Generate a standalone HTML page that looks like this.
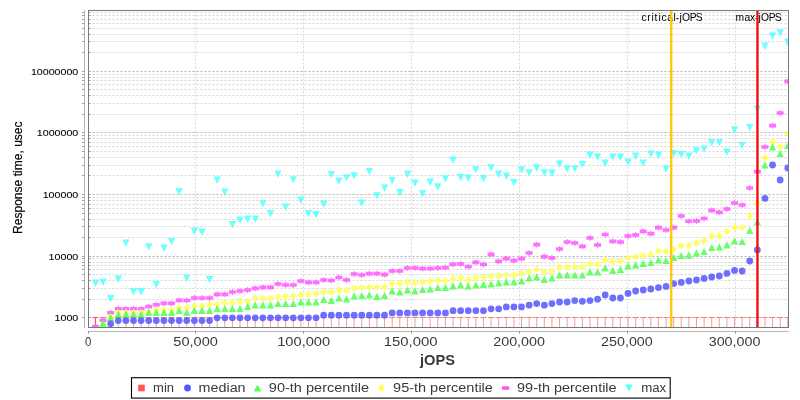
<!DOCTYPE html><html><head><meta charset="utf-8"><title>chart</title><style>html,body{margin:0;padding:0;background:#fff}body{width:800px;height:400px;overflow:hidden}svg text{filter:grayscale(1)}</style></head><body><svg width="800" height="400" viewBox="0 0 800 400" style="display:block;font-family:'Liberation Sans',sans-serif">
<rect width="800" height="400" fill="#fff"/>
<defs><clipPath id="pc"><rect x="88.5" y="10.5" width="700.0" height="317.0"/></clipPath></defs>
<g stroke="#d6d6d6" stroke-width="1" stroke-dasharray="2,2" fill="none">
<path d="M88.5 317.5H788.5" stroke="#b2b2b2"/>
<path d="M88.5 299.5H788.5"/>
<path d="M88.5 288.5H788.5"/>
<path d="M88.5 280.5H788.5"/>
<path d="M88.5 274.5H788.5"/>
<path d="M88.5 269.5H788.5"/>
<path d="M88.5 265.5H788.5"/>
<path d="M88.5 262.5H788.5"/>
<path d="M88.5 258.5H788.5"/>
<path d="M88.5 256.5H788.5" stroke="#b2b2b2"/>
<path d="M88.5 237.5H788.5"/>
<path d="M88.5 226.5H788.5"/>
<path d="M88.5 219.5H788.5"/>
<path d="M88.5 213.5H788.5"/>
<path d="M88.5 208.5H788.5"/>
<path d="M88.5 204.5H788.5"/>
<path d="M88.5 200.5H788.5"/>
<path d="M88.5 197.5H788.5"/>
<path d="M88.5 194.5H788.5" stroke="#b2b2b2"/>
<path d="M88.5 175.5H788.5"/>
<path d="M88.5 165.5H788.5"/>
<path d="M88.5 157.5H788.5"/>
<path d="M88.5 151.5H788.5"/>
<path d="M88.5 146.5H788.5"/>
<path d="M88.5 142.5H788.5"/>
<path d="M88.5 138.5H788.5"/>
<path d="M88.5 135.5H788.5"/>
<path d="M88.5 132.5H788.5" stroke="#b2b2b2"/>
<path d="M88.5 114.5H788.5"/>
<path d="M88.5 103.5H788.5"/>
<path d="M88.5 95.5H788.5"/>
<path d="M88.5 89.5H788.5"/>
<path d="M88.5 84.5H788.5"/>
<path d="M88.5 80.5H788.5"/>
<path d="M88.5 77.5H788.5"/>
<path d="M88.5 74.5H788.5"/>
<path d="M88.5 71.5H788.5" stroke="#b2b2b2"/>
<path d="M88.5 52.5H788.5"/>
<path d="M88.5 41.5H788.5"/>
<path d="M88.5 34.5H788.5"/>
<path d="M88.5 28.5H788.5"/>
<path d="M88.5 23.5H788.5"/>
<path d="M88.5 19.5H788.5"/>
<path d="M88.5 15.5H788.5"/>
<path d="M88.5 12.5H788.5"/>
<path d="M195.5 10.5V327.5"/>
<path d="M303.5 10.5V327.5"/>
<path d="M411.5 10.5V327.5"/>
<path d="M519.5 10.5V327.5"/>
<path d="M627.5 10.5V327.5"/>
<path d="M735.5 10.5V327.5"/>
</g>
<g clip-path="url(#pc)">
<g stroke="#ff5555" stroke-width="1" fill="none" stroke-opacity="0.62">
<path d="M100.32 317.5H105.82M103.07 317.5V328"/>
<path d="M107.92 317.5H113.42M110.67 317.5V328"/>
<path d="M115.53 317.5H121.03M118.28 317.5V328"/>
<path d="M123.14 317.5H128.64M125.89 317.5V328"/>
<path d="M130.75 317.5H136.25M133.50 317.5V328"/>
<path d="M138.36 317.5H143.86M141.11 317.5V328"/>
<path d="M145.96 317.5H151.46M148.71 317.5V328"/>
<path d="M153.57 317.5H159.07M156.32 317.5V328"/>
<path d="M161.18 317.5H166.68M163.93 317.5V328"/>
<path d="M168.79 317.5H174.29M171.54 317.5V328"/>
<path d="M176.40 317.5H181.90M179.15 317.5V328"/>
<path d="M184.00 317.5H189.50M186.75 317.5V328"/>
<path d="M191.61 317.5H197.11M194.36 317.5V328"/>
<path d="M199.22 317.5H204.72M201.97 317.5V328"/>
<path d="M206.83 317.5H212.33M209.58 317.5V328"/>
<path d="M214.44 317.5H219.94M217.19 317.5V328"/>
<path d="M222.04 317.5H227.54M224.79 317.5V328"/>
<path d="M229.65 317.5H235.15M232.40 317.5V328"/>
<path d="M237.26 317.5H242.76M240.01 317.5V328"/>
<path d="M244.87 317.5H250.37M247.62 317.5V328"/>
<path d="M252.48 317.5H257.98M255.23 317.5V328"/>
<path d="M260.08 317.5H265.58M262.83 317.5V328"/>
<path d="M267.69 317.5H273.19M270.44 317.5V328"/>
<path d="M275.30 317.5H280.80M278.05 317.5V328"/>
<path d="M282.91 317.5H288.41M285.66 317.5V328"/>
<path d="M290.52 317.5H296.02M293.27 317.5V328"/>
<path d="M298.12 317.5H303.62M300.87 317.5V328"/>
<path d="M305.73 317.5H311.23M308.48 317.5V328"/>
<path d="M313.34 317.5H318.84M316.09 317.5V328"/>
<path d="M320.95 317.5H326.45M323.70 317.5V328"/>
<path d="M328.56 317.5H334.06M331.31 317.5V328"/>
<path d="M336.16 317.5H341.66M338.91 317.5V328"/>
<path d="M343.77 317.5H349.27M346.52 317.5V328"/>
<path d="M351.38 317.5H356.88M354.13 317.5V328"/>
<path d="M358.99 317.5H364.49M361.74 317.5V328"/>
<path d="M366.60 317.5H372.10M369.35 317.5V328"/>
<path d="M374.20 317.5H379.70M376.95 317.5V328"/>
<path d="M381.81 317.5H387.31M384.56 317.5V328"/>
<path d="M389.42 317.5H394.92M392.17 317.5V328"/>
<path d="M397.03 317.5H402.53M399.78 317.5V328"/>
<path d="M404.64 317.5H410.14M407.39 317.5V328"/>
<path d="M412.24 317.5H417.74M414.99 317.5V328"/>
<path d="M419.85 317.5H425.35M422.60 317.5V328"/>
<path d="M427.46 317.5H432.96M430.21 317.5V328"/>
<path d="M435.07 317.5H440.57M437.82 317.5V328"/>
<path d="M442.68 317.5H448.18M445.43 317.5V328"/>
<path d="M450.28 317.5H455.78M453.03 317.5V328"/>
<path d="M457.89 317.5H463.39M460.64 317.5V328"/>
<path d="M465.50 317.5H471.00M468.25 317.5V328"/>
<path d="M473.11 317.5H478.61M475.86 317.5V328"/>
<path d="M480.72 317.5H486.22M483.47 317.5V328"/>
<path d="M488.32 317.5H493.82M491.07 317.5V328"/>
<path d="M495.93 317.5H501.43M498.68 317.5V328"/>
<path d="M503.54 317.5H509.04M506.29 317.5V328"/>
<path d="M511.15 317.5H516.65M513.90 317.5V328"/>
<path d="M518.76 317.5H524.26M521.51 317.5V328"/>
<path d="M526.36 317.5H531.86M529.11 317.5V328"/>
<path d="M533.97 317.5H539.47M536.72 317.5V328"/>
<path d="M541.58 317.5H547.08M544.33 317.5V328"/>
<path d="M549.19 317.5H554.69M551.94 317.5V328"/>
<path d="M556.80 317.5H562.30M559.55 317.5V328"/>
<path d="M564.40 317.5H569.90M567.15 317.5V328"/>
<path d="M572.01 317.5H577.51M574.76 317.5V328"/>
<path d="M579.62 317.5H585.12M582.37 317.5V328"/>
<path d="M587.23 317.5H592.73M589.98 317.5V328"/>
<path d="M594.84 317.5H600.34M597.59 317.5V328"/>
<path d="M602.44 317.5H607.94M605.19 317.5V328"/>
<path d="M610.05 317.5H615.55M612.80 317.5V328"/>
<path d="M617.66 317.5H623.16M620.41 317.5V328"/>
<path d="M625.27 317.5H630.77M628.02 317.5V328"/>
<path d="M632.88 317.5H638.38M635.63 317.5V328"/>
<path d="M640.48 317.5H645.98M643.23 317.5V328"/>
<path d="M648.09 317.5H653.59M650.84 317.5V328"/>
<path d="M655.70 317.5H661.20M658.45 317.5V328"/>
<path d="M663.31 317.5H668.81M666.06 317.5V328"/>
<path d="M670.92 317.5H676.42M673.67 317.5V328"/>
<path d="M678.52 317.5H684.02M681.27 317.5V328"/>
<path d="M686.13 317.5H691.63M688.88 317.5V328"/>
<path d="M693.74 317.5H699.24M696.49 317.5V328"/>
<path d="M701.35 317.5H706.85M704.10 317.5V328"/>
<path d="M708.96 317.5H714.46M711.71 317.5V328"/>
<path d="M716.56 317.5H722.06M719.31 317.5V328"/>
<path d="M724.17 317.5H729.67M726.92 317.5V328"/>
<path d="M731.78 317.5H737.28M734.53 317.5V328"/>
<path d="M739.39 317.5H744.89M742.14 317.5V328"/>
<path d="M747.00 317.5H752.50M749.75 317.5V328"/>
<path d="M754.60 317.5H760.10M757.35 317.5V328"/>
<path d="M762.21 317.5H767.71M764.96 317.5V328"/>
<path d="M769.82 317.5H775.32M772.57 317.5V328"/>
<path d="M777.43 317.5H782.93M780.18 317.5V328"/>
<path d="M785.04 317.5H790.54M787.79 317.5V328"/>
</g>
<path d="M92.71 317.5H98.21M95.46 317.5V328" stroke="#ff5050" stroke-width="1.2" fill="none"/>
<g fill="#55ffff" fill-opacity="0.85">
<path d="M91.76 279.60L99.16 279.60L95.46 286.90Z"/>
<path d="M99.37 278.60L106.77 278.60L103.07 285.90Z"/>
<path d="M106.97 295.10L114.37 295.10L110.67 302.40Z"/>
<path d="M114.58 275.60L121.98 275.60L118.28 282.90Z"/>
<path d="M122.19 239.60L129.59 239.60L125.89 246.90Z"/>
<path d="M129.80 288.10L137.20 288.10L133.50 295.40Z"/>
<path d="M137.41 288.10L144.81 288.10L141.11 295.40Z"/>
<path d="M145.01 243.20L152.41 243.20L148.71 250.50Z"/>
<path d="M152.62 281.10L160.02 281.10L156.32 288.40Z"/>
<path d="M160.23 244.60L167.63 244.60L163.93 251.90Z"/>
<path d="M167.84 238.00L175.24 238.00L171.54 245.30Z"/>
<path d="M175.45 188.10L182.85 188.10L179.15 195.40Z"/>
<path d="M183.05 274.60L190.45 274.60L186.75 281.90Z"/>
<path d="M190.66 227.60L198.06 227.60L194.36 234.90Z"/>
<path d="M198.27 228.60L205.67 228.60L201.97 235.90Z"/>
<path d="M205.88 276.00L213.28 276.00L209.58 283.30Z"/>
<path d="M213.49 176.60L220.89 176.60L217.19 183.90Z"/>
<path d="M221.09 188.60L228.49 188.60L224.79 195.90Z"/>
<path d="M228.70 221.00L236.10 221.00L232.40 228.30Z"/>
<path d="M236.31 216.60L243.71 216.60L240.01 223.90Z"/>
<path d="M243.92 215.60L251.32 215.60L247.62 222.90Z"/>
<path d="M251.53 215.60L258.93 215.60L255.23 222.90Z"/>
<path d="M259.13 200.20L266.53 200.20L262.83 207.50Z"/>
<path d="M266.74 210.00L274.14 210.00L270.44 217.30Z"/>
<path d="M274.35 170.60L281.75 170.60L278.05 177.90Z"/>
<path d="M281.96 203.60L289.36 203.60L285.66 210.90Z"/>
<path d="M289.57 176.20L296.97 176.20L293.27 183.50Z"/>
<path d="M297.17 196.60L304.57 196.60L300.87 203.90Z"/>
<path d="M304.78 210.00L312.18 210.00L308.48 217.30Z"/>
<path d="M312.39 211.00L319.79 211.00L316.09 218.30Z"/>
<path d="M320.00 200.60L327.40 200.60L323.70 207.90Z"/>
<path d="M327.61 171.00L335.01 171.00L331.31 178.30Z"/>
<path d="M335.21 177.60L342.61 177.60L338.91 184.90Z"/>
<path d="M342.82 174.20L350.22 174.20L346.52 181.50Z"/>
<path d="M350.43 172.20L357.83 172.20L354.13 179.50Z"/>
<path d="M358.04 199.60L365.44 199.60L361.74 206.90Z"/>
<path d="M365.65 168.00L373.05 168.00L369.35 175.30Z"/>
<path d="M373.25 192.20L380.65 192.20L376.95 199.50Z"/>
<path d="M380.86 184.60L388.26 184.60L384.56 191.90Z"/>
<path d="M388.47 177.10L395.87 177.10L392.17 184.40Z"/>
<path d="M396.08 189.00L403.48 189.00L399.78 196.30Z"/>
<path d="M403.69 170.60L411.09 170.60L407.39 177.90Z"/>
<path d="M411.29 179.60L418.69 179.60L414.99 186.90Z"/>
<path d="M418.90 190.00L426.30 190.00L422.60 197.30Z"/>
<path d="M426.51 178.60L433.91 178.60L430.21 185.90Z"/>
<path d="M434.12 183.20L441.52 183.20L437.82 190.50Z"/>
<path d="M441.73 175.20L449.13 175.20L445.43 182.50Z"/>
<path d="M449.33 156.60L456.73 156.60L453.03 163.90Z"/>
<path d="M456.94 174.00L464.34 174.00L460.64 181.30Z"/>
<path d="M464.55 174.60L471.95 174.60L468.25 181.90Z"/>
<path d="M472.16 166.20L479.56 166.20L475.86 173.50Z"/>
<path d="M479.77 175.00L487.17 175.00L483.47 182.30Z"/>
<path d="M487.37 164.20L494.77 164.20L491.07 171.50Z"/>
<path d="M494.98 170.60L502.38 170.60L498.68 177.90Z"/>
<path d="M502.59 172.60L509.99 172.60L506.29 179.90Z"/>
<path d="M510.20 179.00L517.60 179.00L513.90 186.30Z"/>
<path d="M517.81 166.20L525.21 166.20L521.51 173.50Z"/>
<path d="M525.41 169.20L532.81 169.20L529.11 176.50Z"/>
<path d="M533.02 164.60L540.42 164.60L536.72 171.90Z"/>
<path d="M540.63 169.40L548.03 169.40L544.33 176.70Z"/>
<path d="M548.24 169.60L555.64 169.60L551.94 176.90Z"/>
<path d="M555.85 160.60L563.25 160.60L559.55 167.90Z"/>
<path d="M563.45 165.20L570.85 165.20L567.15 172.50Z"/>
<path d="M571.06 165.20L578.46 165.20L574.76 172.50Z"/>
<path d="M578.67 161.00L586.07 161.00L582.37 168.30Z"/>
<path d="M586.28 151.60L593.68 151.60L589.98 158.90Z"/>
<path d="M593.89 153.60L601.29 153.60L597.59 160.90Z"/>
<path d="M601.49 159.60L608.89 159.60L605.19 166.90Z"/>
<path d="M609.10 153.60L616.50 153.60L612.80 160.90Z"/>
<path d="M616.71 153.60L624.11 153.60L620.41 160.90Z"/>
<path d="M624.32 158.60L631.72 158.60L628.02 165.90Z"/>
<path d="M631.93 152.60L639.33 152.60L635.63 159.90Z"/>
<path d="M639.53 159.40L646.93 159.40L643.23 166.70Z"/>
<path d="M647.14 150.60L654.54 150.60L650.84 157.90Z"/>
<path d="M654.75 151.60L662.15 151.60L658.45 158.90Z"/>
<path d="M662.36 165.40L669.76 165.40L666.06 172.70Z"/>
<path d="M669.97 149.90L677.37 149.90L673.67 157.20Z"/>
<path d="M677.57 151.10L684.97 151.10L681.27 158.40Z"/>
<path d="M685.18 152.60L692.58 152.60L688.88 159.90Z"/>
<path d="M692.79 147.20L700.19 147.20L696.49 154.50Z"/>
<path d="M700.40 145.60L707.80 145.60L704.10 152.90Z"/>
<path d="M708.01 139.00L715.41 139.00L711.71 146.30Z"/>
<path d="M715.61 139.00L723.01 139.00L719.31 146.30Z"/>
<path d="M723.22 148.60L730.62 148.60L726.92 155.90Z"/>
<path d="M730.83 126.20L738.23 126.20L734.53 133.50Z"/>
<path d="M738.44 142.00L745.84 142.00L742.14 149.30Z"/>
<path d="M746.05 124.00L753.45 124.00L749.75 131.30Z"/>
<path d="M753.65 105.60L761.05 105.60L757.35 112.90Z"/>
<path d="M761.26 42.60L768.66 42.60L764.96 49.90Z"/>
<path d="M768.87 32.60L776.27 32.60L772.57 39.90Z"/>
<path d="M776.48 29.20L783.88 29.20L780.18 36.50Z"/>
<path d="M784.09 38.60L791.49 38.60L787.79 45.90Z"/>
</g>
<g fill="#ff5aff" fill-opacity="0.88">
<path d="M91.96 324.70h7v3.6h-7zM94.96 323.60h1v5.8h-1z"/>
<path d="M99.57 318.45h7v3.6h-7zM102.57 317.35h1v5.8h-1z"/>
<path d="M107.17 310.95h7v3.6h-7zM110.17 309.85h1v5.8h-1z"/>
<path d="M114.78 306.95h7v3.6h-7zM117.78 305.85h1v5.8h-1z"/>
<path d="M122.39 306.95h7v3.6h-7zM125.39 305.85h1v5.8h-1z"/>
<path d="M130.00 306.95h7v3.6h-7zM133.00 305.85h1v5.8h-1z"/>
<path d="M137.61 306.95h7v3.6h-7zM140.61 305.85h1v5.8h-1z"/>
<path d="M145.21 304.80h7v3.6h-7zM148.21 303.70h1v5.8h-1z"/>
<path d="M152.82 302.95h7v3.6h-7zM155.82 301.85h1v5.8h-1z"/>
<path d="M160.43 301.60h7v3.6h-7zM163.43 300.50h1v5.8h-1z"/>
<path d="M168.04 301.60h7v3.6h-7zM171.04 300.50h1v5.8h-1z"/>
<path d="M175.65 298.60h7v3.6h-7zM178.65 297.50h1v5.8h-1z"/>
<path d="M183.25 298.70h7v3.6h-7zM186.25 297.60h1v5.8h-1z"/>
<path d="M190.86 296.20h7v3.6h-7zM193.86 295.10h1v5.8h-1z"/>
<path d="M198.47 296.20h7v3.6h-7zM201.47 295.10h1v5.8h-1z"/>
<path d="M206.08 296.20h7v3.6h-7zM209.08 295.10h1v5.8h-1z"/>
<path d="M213.69 292.60h7v3.6h-7zM216.69 291.50h1v5.8h-1z"/>
<path d="M221.29 292.60h7v3.6h-7zM224.29 291.50h1v5.8h-1z"/>
<path d="M228.90 290.20h7v3.6h-7zM231.90 289.10h1v5.8h-1z"/>
<path d="M236.51 289.20h7v3.6h-7zM239.51 288.10h1v5.8h-1z"/>
<path d="M244.12 288.20h7v3.6h-7zM247.12 287.10h1v5.8h-1z"/>
<path d="M251.73 286.60h7v3.6h-7zM254.73 285.50h1v5.8h-1z"/>
<path d="M259.33 285.60h7v3.6h-7zM262.33 284.50h1v5.8h-1z"/>
<path d="M266.94 285.60h7v3.6h-7zM269.94 284.50h1v5.8h-1z"/>
<path d="M274.55 282.20h7v3.6h-7zM277.55 281.10h1v5.8h-1z"/>
<path d="M282.16 283.20h7v3.6h-7zM285.16 282.10h1v5.8h-1z"/>
<path d="M289.77 283.20h7v3.6h-7zM292.77 282.10h1v5.8h-1z"/>
<path d="M297.37 279.20h7v3.6h-7zM300.37 278.10h1v5.8h-1z"/>
<path d="M304.98 280.60h7v3.6h-7zM307.98 279.50h1v5.8h-1z"/>
<path d="M312.59 280.60h7v3.6h-7zM315.59 279.50h1v5.8h-1z"/>
<path d="M320.20 278.20h7v3.6h-7zM323.20 277.10h1v5.8h-1z"/>
<path d="M327.81 278.70h7v3.6h-7zM330.81 277.60h1v5.8h-1z"/>
<path d="M335.41 275.70h7v3.6h-7zM338.41 274.60h1v5.8h-1z"/>
<path d="M343.02 278.20h7v3.6h-7zM346.02 277.10h1v5.8h-1z"/>
<path d="M350.63 272.20h7v3.6h-7zM353.63 271.10h1v5.8h-1z"/>
<path d="M358.24 273.20h7v3.6h-7zM361.24 272.10h1v5.8h-1z"/>
<path d="M365.85 271.80h7v3.6h-7zM368.85 270.70h1v5.8h-1z"/>
<path d="M373.45 271.80h7v3.6h-7zM376.45 270.70h1v5.8h-1z"/>
<path d="M381.06 272.80h7v3.6h-7zM384.06 271.70h1v5.8h-1z"/>
<path d="M388.67 269.20h7v3.6h-7zM391.67 268.10h1v5.8h-1z"/>
<path d="M396.28 269.20h7v3.6h-7zM399.28 268.10h1v5.8h-1z"/>
<path d="M403.89 266.20h7v3.6h-7zM406.89 265.10h1v5.8h-1z"/>
<path d="M411.49 266.20h7v3.6h-7zM414.49 265.10h1v5.8h-1z"/>
<path d="M419.10 266.80h7v3.6h-7zM422.10 265.70h1v5.8h-1z"/>
<path d="M426.71 266.80h7v3.6h-7zM429.71 265.70h1v5.8h-1z"/>
<path d="M434.32 266.20h7v3.6h-7zM437.32 265.10h1v5.8h-1z"/>
<path d="M441.93 265.80h7v3.6h-7zM444.93 264.70h1v5.8h-1z"/>
<path d="M449.53 262.60h7v3.6h-7zM452.53 261.50h1v5.8h-1z"/>
<path d="M457.14 262.20h7v3.6h-7zM460.14 261.10h1v5.8h-1z"/>
<path d="M464.75 264.80h7v3.6h-7zM467.75 263.70h1v5.8h-1z"/>
<path d="M472.36 260.60h7v3.6h-7zM475.36 259.50h1v5.8h-1z"/>
<path d="M479.97 262.70h7v3.6h-7zM482.97 261.60h1v5.8h-1z"/>
<path d="M487.57 252.60h7v3.6h-7zM490.57 251.50h1v5.8h-1z"/>
<path d="M495.18 259.60h7v3.6h-7zM498.18 258.50h1v5.8h-1z"/>
<path d="M502.79 256.80h7v3.6h-7zM505.79 255.70h1v5.8h-1z"/>
<path d="M510.40 258.80h7v3.6h-7zM513.40 257.70h1v5.8h-1z"/>
<path d="M518.01 256.80h7v3.6h-7zM521.01 255.70h1v5.8h-1z"/>
<path d="M525.61 251.20h7v3.6h-7zM528.61 250.10h1v5.8h-1z"/>
<path d="M533.22 242.80h7v3.6h-7zM536.22 241.70h1v5.8h-1z"/>
<path d="M540.83 254.80h7v3.6h-7zM543.83 253.70h1v5.8h-1z"/>
<path d="M548.44 256.20h7v3.6h-7zM551.44 255.10h1v5.8h-1z"/>
<path d="M556.05 247.20h7v3.6h-7zM559.05 246.10h1v5.8h-1z"/>
<path d="M563.65 240.20h7v3.6h-7zM566.65 239.10h1v5.8h-1z"/>
<path d="M571.26 241.20h7v3.6h-7zM574.26 240.10h1v5.8h-1z"/>
<path d="M578.87 244.60h7v3.6h-7zM581.87 243.50h1v5.8h-1z"/>
<path d="M586.48 236.20h7v3.6h-7zM589.48 235.10h1v5.8h-1z"/>
<path d="M594.09 243.20h7v3.6h-7zM597.09 242.10h1v5.8h-1z"/>
<path d="M601.69 232.70h7v3.6h-7zM604.69 231.60h1v5.8h-1z"/>
<path d="M609.30 239.60h7v3.6h-7zM612.30 238.50h1v5.8h-1z"/>
<path d="M616.91 240.20h7v3.6h-7zM619.91 239.10h1v5.8h-1z"/>
<path d="M624.52 234.20h7v3.6h-7zM627.52 233.10h1v5.8h-1z"/>
<path d="M632.13 233.20h7v3.6h-7zM635.13 232.10h1v5.8h-1z"/>
<path d="M639.73 229.60h7v3.6h-7zM642.73 228.50h1v5.8h-1z"/>
<path d="M647.34 231.80h7v3.6h-7zM650.34 230.70h1v5.8h-1z"/>
<path d="M654.95 225.80h7v3.6h-7zM657.95 224.70h1v5.8h-1z"/>
<path d="M662.56 228.20h7v3.6h-7zM665.56 227.10h1v5.8h-1z"/>
<path d="M670.17 225.80h7v3.6h-7zM673.17 224.70h1v5.8h-1z"/>
<path d="M677.77 214.20h7v3.6h-7zM680.77 213.10h1v5.8h-1z"/>
<path d="M685.38 219.50h7v3.6h-7zM688.38 218.40h1v5.8h-1z"/>
<path d="M692.99 219.20h7v3.6h-7zM695.99 218.10h1v5.8h-1z"/>
<path d="M700.60 216.70h7v3.6h-7zM703.60 215.60h1v5.8h-1z"/>
<path d="M708.21 208.60h7v3.6h-7zM711.21 207.50h1v5.8h-1z"/>
<path d="M715.81 210.60h7v3.6h-7zM718.81 209.50h1v5.8h-1z"/>
<path d="M723.42 207.20h7v3.6h-7zM726.42 206.10h1v5.8h-1z"/>
<path d="M731.03 201.20h7v3.6h-7zM734.03 200.10h1v5.8h-1z"/>
<path d="M738.64 203.20h7v3.6h-7zM741.64 202.10h1v5.8h-1z"/>
<path d="M746.25 186.20h7v3.6h-7zM749.25 185.10h1v5.8h-1z"/>
<path d="M753.85 169.80h7v3.6h-7zM756.85 168.70h1v5.8h-1z"/>
<path d="M761.46 145.20h7v3.6h-7zM764.46 144.10h1v5.8h-1z"/>
<path d="M769.07 123.80h7v3.6h-7zM772.07 122.70h1v5.8h-1z"/>
<path d="M776.68 111.20h7v3.6h-7zM779.68 110.10h1v5.8h-1z"/>
<path d="M784.29 79.60h7v3.6h-7zM787.29 78.50h1v5.8h-1z"/>
</g>
<g fill="#ffff5a" fill-opacity="0.9">
<path d="M103.07 320.80L106.77 324.50L103.07 328.20L99.37 324.50Z"/>
<path d="M110.67 313.30L114.37 317.00L110.67 320.70L106.97 317.00Z"/>
<path d="M118.28 309.05L121.98 312.75L118.28 316.45L114.58 312.75Z"/>
<path d="M125.89 309.05L129.59 312.75L125.89 316.45L122.19 312.75Z"/>
<path d="M133.50 309.05L137.20 312.75L133.50 316.45L129.80 312.75Z"/>
<path d="M141.11 309.05L144.81 312.75L141.11 316.45L137.41 312.75Z"/>
<path d="M148.71 307.80L152.41 311.50L148.71 315.20L145.01 311.50Z"/>
<path d="M156.32 306.30L160.02 310.00L156.32 313.70L152.62 310.00Z"/>
<path d="M163.93 306.30L167.63 310.00L163.93 313.70L160.23 310.00Z"/>
<path d="M171.54 306.30L175.24 310.00L171.54 313.70L167.84 310.00Z"/>
<path d="M179.15 304.05L182.85 307.75L179.15 311.45L175.45 307.75Z"/>
<path d="M186.75 304.30L190.45 308.00L186.75 311.70L183.05 308.00Z"/>
<path d="M194.36 302.30L198.06 306.00L194.36 309.70L190.66 306.00Z"/>
<path d="M201.97 302.30L205.67 306.00L201.97 309.70L198.27 306.00Z"/>
<path d="M209.58 300.70L213.28 304.40L209.58 308.10L205.88 304.40Z"/>
<path d="M217.19 300.70L220.89 304.40L217.19 308.10L213.49 304.40Z"/>
<path d="M224.79 299.30L228.49 303.00L224.79 306.70L221.09 303.00Z"/>
<path d="M232.40 299.30L236.10 303.00L232.40 306.70L228.70 303.00Z"/>
<path d="M240.01 297.90L243.71 301.60L240.01 305.30L236.31 301.60Z"/>
<path d="M247.62 297.90L251.32 301.60L247.62 305.30L243.92 301.60Z"/>
<path d="M255.23 294.70L258.93 298.40L255.23 302.10L251.53 298.40Z"/>
<path d="M262.83 294.70L266.53 298.40L262.83 302.10L259.13 298.40Z"/>
<path d="M270.44 294.70L274.14 298.40L270.44 302.10L266.74 298.40Z"/>
<path d="M278.05 293.30L281.75 297.00L278.05 300.70L274.35 297.00Z"/>
<path d="M285.66 292.70L289.36 296.40L285.66 300.10L281.96 296.40Z"/>
<path d="M293.27 292.70L296.97 296.40L293.27 300.10L289.57 296.40Z"/>
<path d="M300.87 291.30L304.57 295.00L300.87 298.70L297.17 295.00Z"/>
<path d="M308.48 290.70L312.18 294.40L308.48 298.10L304.78 294.40Z"/>
<path d="M316.09 289.90L319.79 293.60L316.09 297.30L312.39 293.60Z"/>
<path d="M323.70 288.30L327.40 292.00L323.70 295.70L320.00 292.00Z"/>
<path d="M331.31 288.30L335.01 292.00L331.31 295.70L327.61 292.00Z"/>
<path d="M338.91 286.10L342.61 289.80L338.91 293.50L335.21 289.80Z"/>
<path d="M346.52 286.90L350.22 290.60L346.52 294.30L342.82 290.60Z"/>
<path d="M354.13 284.30L357.83 288.00L354.13 291.70L350.43 288.00Z"/>
<path d="M361.74 283.90L365.44 287.60L361.74 291.30L358.04 287.60Z"/>
<path d="M369.35 283.30L373.05 287.00L369.35 290.70L365.65 287.00Z"/>
<path d="M376.95 283.30L380.65 287.00L376.95 290.70L373.25 287.00Z"/>
<path d="M384.56 283.30L388.26 287.00L384.56 290.70L380.86 287.00Z"/>
<path d="M392.17 279.90L395.87 283.60L392.17 287.30L388.47 283.60Z"/>
<path d="M399.78 279.90L403.48 283.60L399.78 287.30L396.08 283.60Z"/>
<path d="M407.39 278.70L411.09 282.40L407.39 286.10L403.69 282.40Z"/>
<path d="M414.99 279.30L418.69 283.00L414.99 286.70L411.29 283.00Z"/>
<path d="M422.60 278.70L426.30 282.40L422.60 286.10L418.90 282.40Z"/>
<path d="M430.21 277.30L433.91 281.00L430.21 284.70L426.51 281.00Z"/>
<path d="M437.82 276.70L441.52 280.40L437.82 284.10L434.12 280.40Z"/>
<path d="M445.43 277.30L449.13 281.00L445.43 284.70L441.73 281.00Z"/>
<path d="M453.03 275.30L456.73 279.00L453.03 282.70L449.33 279.00Z"/>
<path d="M460.64 274.30L464.34 278.00L460.64 281.70L456.94 278.00Z"/>
<path d="M468.25 276.30L471.95 280.00L468.25 283.70L464.55 280.00Z"/>
<path d="M475.86 274.30L479.56 278.00L475.86 281.70L472.16 278.00Z"/>
<path d="M483.47 273.70L487.17 277.40L483.47 281.10L479.77 277.40Z"/>
<path d="M491.07 272.90L494.77 276.60L491.07 280.30L487.37 276.60Z"/>
<path d="M498.68 272.30L502.38 276.00L498.68 279.70L494.98 276.00Z"/>
<path d="M506.29 271.30L509.99 275.00L506.29 278.70L502.59 275.00Z"/>
<path d="M513.90 271.30L517.60 275.00L513.90 278.70L510.20 275.00Z"/>
<path d="M521.51 269.70L525.21 273.40L521.51 277.10L517.81 273.40Z"/>
<path d="M529.11 267.90L532.81 271.60L529.11 275.30L525.41 271.60Z"/>
<path d="M536.72 265.70L540.42 269.40L536.72 273.10L533.02 269.40Z"/>
<path d="M544.33 268.30L548.03 272.00L544.33 275.70L540.63 272.00Z"/>
<path d="M551.94 267.70L555.64 271.40L551.94 275.10L548.24 271.40Z"/>
<path d="M559.55 263.30L563.25 267.00L559.55 270.70L555.85 267.00Z"/>
<path d="M567.15 263.30L570.85 267.00L567.15 270.70L563.45 267.00Z"/>
<path d="M574.76 262.90L578.46 266.60L574.76 270.30L571.06 266.60Z"/>
<path d="M582.37 263.30L586.07 267.00L582.37 270.70L578.67 267.00Z"/>
<path d="M589.98 260.30L593.68 264.00L589.98 267.70L586.28 264.00Z"/>
<path d="M597.59 260.90L601.29 264.60L597.59 268.30L593.89 264.60Z"/>
<path d="M605.19 256.30L608.89 260.00L605.19 263.70L601.49 260.00Z"/>
<path d="M612.80 257.70L616.50 261.40L612.80 265.10L609.10 261.40Z"/>
<path d="M620.41 257.30L624.11 261.00L620.41 264.70L616.71 261.00Z"/>
<path d="M628.02 254.30L631.72 258.00L628.02 261.70L624.32 258.00Z"/>
<path d="M635.63 253.10L639.33 256.80L635.63 260.50L631.93 256.80Z"/>
<path d="M643.23 251.70L646.93 255.40L643.23 259.10L639.53 255.40Z"/>
<path d="M650.84 250.70L654.54 254.40L650.84 258.10L647.14 254.40Z"/>
<path d="M658.45 247.30L662.15 251.00L658.45 254.70L654.75 251.00Z"/>
<path d="M666.06 247.90L669.76 251.60L666.06 255.30L662.36 251.60Z"/>
<path d="M673.67 245.90L677.37 249.60L673.67 253.30L669.97 249.60Z"/>
<path d="M681.27 241.90L684.97 245.60L681.27 249.30L677.57 245.60Z"/>
<path d="M688.88 241.90L692.58 245.60L688.88 249.30L685.18 245.60Z"/>
<path d="M696.49 239.30L700.19 243.00L696.49 246.70L692.79 243.00Z"/>
<path d="M704.10 237.30L707.80 241.00L704.10 244.70L700.40 241.00Z"/>
<path d="M711.71 232.30L715.41 236.00L711.71 239.70L708.01 236.00Z"/>
<path d="M719.31 232.30L723.01 236.00L719.31 239.70L715.61 236.00Z"/>
<path d="M726.92 227.70L730.62 231.40L726.92 235.10L723.22 231.40Z"/>
<path d="M734.53 223.90L738.23 227.60L734.53 231.30L730.83 227.60Z"/>
<path d="M742.14 223.90L745.84 227.60L742.14 231.30L738.44 227.60Z"/>
<path d="M749.75 211.90L753.45 215.60L749.75 219.30L746.05 215.60Z"/>
<path d="M757.35 199.90L761.05 203.60L757.35 207.30L753.65 203.60Z"/>
<path d="M764.96 154.30L768.66 158.00L764.96 161.70L761.26 158.00Z"/>
<path d="M772.57 138.30L776.27 142.00L772.57 145.70L768.87 142.00Z"/>
<path d="M780.18 142.90L783.88 146.60L780.18 150.30L776.48 146.60Z"/>
<path d="M787.79 129.90L791.49 133.60L787.79 137.30L784.09 133.60Z"/>
</g>
<g fill="#55ff55" fill-opacity="0.88">
<path d="M103.07 319.55L106.77 326.75L99.37 326.75Z"/>
<path d="M110.67 313.80L114.37 321.00L106.97 321.00Z"/>
<path d="M118.28 310.55L121.98 317.75L114.58 317.75Z"/>
<path d="M125.89 310.55L129.59 317.75L122.19 317.75Z"/>
<path d="M133.50 310.55L137.20 317.75L129.80 317.75Z"/>
<path d="M141.11 310.55L144.81 317.75L137.41 317.75Z"/>
<path d="M148.71 308.80L152.41 316.00L145.01 316.00Z"/>
<path d="M156.32 308.80L160.02 316.00L152.62 316.00Z"/>
<path d="M163.93 308.80L167.63 316.00L160.23 316.00Z"/>
<path d="M171.54 308.80L175.24 316.00L167.84 316.00Z"/>
<path d="M179.15 306.90L182.85 314.10L175.45 314.10Z"/>
<path d="M186.75 308.70L190.45 315.90L183.05 315.90Z"/>
<path d="M194.36 306.70L198.06 313.90L190.66 313.90Z"/>
<path d="M201.97 306.70L205.67 313.90L198.27 313.90Z"/>
<path d="M209.58 306.70L213.28 313.90L205.88 313.90Z"/>
<path d="M217.19 304.90L220.89 312.10L213.49 312.10Z"/>
<path d="M224.79 304.90L228.49 312.10L221.09 312.10Z"/>
<path d="M232.40 304.90L236.10 312.10L228.70 312.10Z"/>
<path d="M240.01 304.90L243.71 312.10L236.31 312.10Z"/>
<path d="M247.62 302.70L251.32 309.90L243.92 309.90Z"/>
<path d="M255.23 301.30L258.93 308.50L251.53 308.50Z"/>
<path d="M262.83 301.30L266.53 308.50L259.13 308.50Z"/>
<path d="M270.44 301.30L274.14 308.50L266.74 308.50Z"/>
<path d="M278.05 299.90L281.75 307.10L274.35 307.10Z"/>
<path d="M285.66 299.90L289.36 307.10L281.96 307.10Z"/>
<path d="M293.27 299.90L296.97 307.10L289.57 307.10Z"/>
<path d="M300.87 298.30L304.57 305.50L297.17 305.50Z"/>
<path d="M308.48 298.30L312.18 305.50L304.78 305.50Z"/>
<path d="M316.09 298.30L319.79 305.50L312.39 305.50Z"/>
<path d="M323.70 295.80L327.40 303.00L320.00 303.00Z"/>
<path d="M331.31 296.80L335.01 304.00L327.61 304.00Z"/>
<path d="M338.91 294.30L342.61 301.50L335.21 301.50Z"/>
<path d="M346.52 295.30L350.22 302.50L342.82 302.50Z"/>
<path d="M354.13 292.30L357.83 299.50L350.43 299.50Z"/>
<path d="M361.74 291.90L365.44 299.10L358.04 299.10Z"/>
<path d="M369.35 291.30L373.05 298.50L365.65 298.50Z"/>
<path d="M376.95 292.70L380.65 299.90L373.25 299.90Z"/>
<path d="M384.56 291.70L388.26 298.90L380.86 298.90Z"/>
<path d="M392.17 287.30L395.87 294.50L388.47 294.50Z"/>
<path d="M399.78 288.30L403.48 295.50L396.08 295.50Z"/>
<path d="M407.39 286.30L411.09 293.50L403.69 293.50Z"/>
<path d="M414.99 287.30L418.69 294.50L411.29 294.50Z"/>
<path d="M422.60 285.90L426.30 293.10L418.90 293.10Z"/>
<path d="M430.21 285.30L433.91 292.50L426.51 292.50Z"/>
<path d="M437.82 283.90L441.52 291.10L434.12 291.10Z"/>
<path d="M445.43 283.90L449.13 291.10L441.73 291.10Z"/>
<path d="M453.03 282.30L456.73 289.50L449.33 289.50Z"/>
<path d="M460.64 281.30L464.34 288.50L456.94 288.50Z"/>
<path d="M468.25 282.30L471.95 289.50L464.55 289.50Z"/>
<path d="M475.86 281.30L479.56 288.50L472.16 288.50Z"/>
<path d="M483.47 280.80L487.17 288.00L479.77 288.00Z"/>
<path d="M491.07 280.30L494.77 287.50L487.37 287.50Z"/>
<path d="M498.68 279.30L502.38 286.50L494.98 286.50Z"/>
<path d="M506.29 278.30L509.99 285.50L502.59 285.50Z"/>
<path d="M513.90 278.30L517.60 285.50L510.20 285.50Z"/>
<path d="M521.51 277.30L525.21 284.50L517.81 284.50Z"/>
<path d="M529.11 274.30L532.81 281.50L525.41 281.50Z"/>
<path d="M536.72 273.30L540.42 280.50L533.02 280.50Z"/>
<path d="M544.33 275.70L548.03 282.90L540.63 282.90Z"/>
<path d="M551.94 274.30L555.64 281.50L548.24 281.50Z"/>
<path d="M559.55 271.30L563.25 278.50L555.85 278.50Z"/>
<path d="M567.15 271.30L570.85 278.50L563.45 278.50Z"/>
<path d="M574.76 271.30L578.46 278.50L571.06 278.50Z"/>
<path d="M582.37 271.30L586.07 278.50L578.67 278.50Z"/>
<path d="M589.98 268.30L593.68 275.50L586.28 275.50Z"/>
<path d="M597.59 268.30L601.29 275.50L593.89 275.50Z"/>
<path d="M605.19 264.30L608.89 271.50L601.49 271.50Z"/>
<path d="M612.80 266.90L616.50 274.10L609.10 274.10Z"/>
<path d="M620.41 265.70L624.11 272.90L616.71 272.90Z"/>
<path d="M628.02 262.30L631.72 269.50L624.32 269.50Z"/>
<path d="M635.63 261.30L639.33 268.50L631.93 268.50Z"/>
<path d="M643.23 259.70L646.93 266.90L639.53 266.90Z"/>
<path d="M650.84 258.90L654.54 266.10L647.14 266.10Z"/>
<path d="M658.45 256.30L662.15 263.50L654.75 263.50Z"/>
<path d="M666.06 256.90L669.76 264.10L662.36 264.10Z"/>
<path d="M673.67 253.90L677.37 261.10L669.97 261.10Z"/>
<path d="M681.27 251.90L684.97 259.10L677.57 259.10Z"/>
<path d="M688.88 251.30L692.58 258.50L685.18 258.50Z"/>
<path d="M696.49 249.30L700.19 256.50L692.79 256.50Z"/>
<path d="M704.10 247.90L707.80 255.10L700.40 255.10Z"/>
<path d="M711.71 243.90L715.41 251.10L708.01 251.10Z"/>
<path d="M719.31 243.30L723.01 250.50L715.61 250.50Z"/>
<path d="M726.92 241.30L730.62 248.50L723.22 248.50Z"/>
<path d="M734.53 237.30L738.23 244.50L730.83 244.50Z"/>
<path d="M742.14 237.90L745.84 245.10L738.44 245.10Z"/>
<path d="M749.75 226.70L753.45 233.90L746.05 233.90Z"/>
<path d="M757.35 218.30L761.05 225.50L753.65 225.50Z"/>
<path d="M764.96 161.30L768.66 168.50L761.26 168.50Z"/>
<path d="M772.57 143.30L776.27 150.50L768.87 150.50Z"/>
<path d="M780.18 149.90L783.88 157.10L776.48 157.10Z"/>
<path d="M787.79 141.90L791.49 149.10L784.09 149.10Z"/>
</g>
<g fill="#5b5bff" fill-opacity="0.88">
<circle cx="110.67" cy="323.75" r="3.4"/>
<circle cx="118.28" cy="320.60" r="3.4"/>
<circle cx="125.89" cy="320.60" r="3.4"/>
<circle cx="133.50" cy="320.60" r="3.4"/>
<circle cx="141.11" cy="320.60" r="3.4"/>
<circle cx="148.71" cy="320.60" r="3.4"/>
<circle cx="156.32" cy="320.60" r="3.4"/>
<circle cx="163.93" cy="320.60" r="3.4"/>
<circle cx="171.54" cy="320.60" r="3.4"/>
<circle cx="179.15" cy="320.60" r="3.4"/>
<circle cx="186.75" cy="320.60" r="3.4"/>
<circle cx="194.36" cy="320.60" r="3.4"/>
<circle cx="201.97" cy="320.60" r="3.4"/>
<circle cx="209.58" cy="320.60" r="3.4"/>
<circle cx="217.19" cy="317.80" r="3.4"/>
<circle cx="224.79" cy="317.80" r="3.4"/>
<circle cx="232.40" cy="317.80" r="3.4"/>
<circle cx="240.01" cy="317.80" r="3.4"/>
<circle cx="247.62" cy="317.80" r="3.4"/>
<circle cx="255.23" cy="317.80" r="3.4"/>
<circle cx="262.83" cy="317.80" r="3.4"/>
<circle cx="270.44" cy="317.80" r="3.4"/>
<circle cx="278.05" cy="317.80" r="3.4"/>
<circle cx="285.66" cy="317.80" r="3.4"/>
<circle cx="293.27" cy="317.80" r="3.4"/>
<circle cx="300.87" cy="317.80" r="3.4"/>
<circle cx="308.48" cy="317.80" r="3.4"/>
<circle cx="316.09" cy="317.80" r="3.4"/>
<circle cx="323.70" cy="315.20" r="3.4"/>
<circle cx="331.31" cy="315.20" r="3.4"/>
<circle cx="338.91" cy="315.20" r="3.4"/>
<circle cx="346.52" cy="315.20" r="3.4"/>
<circle cx="354.13" cy="315.20" r="3.4"/>
<circle cx="361.74" cy="315.20" r="3.4"/>
<circle cx="369.35" cy="315.20" r="3.4"/>
<circle cx="376.95" cy="315.20" r="3.4"/>
<circle cx="384.56" cy="315.20" r="3.4"/>
<circle cx="392.17" cy="312.90" r="3.4"/>
<circle cx="399.78" cy="312.90" r="3.4"/>
<circle cx="407.39" cy="312.90" r="3.4"/>
<circle cx="414.99" cy="312.90" r="3.4"/>
<circle cx="422.60" cy="312.90" r="3.4"/>
<circle cx="430.21" cy="312.90" r="3.4"/>
<circle cx="437.82" cy="312.90" r="3.4"/>
<circle cx="445.43" cy="312.90" r="3.4"/>
<circle cx="453.03" cy="310.70" r="3.4"/>
<circle cx="460.64" cy="310.70" r="3.4"/>
<circle cx="468.25" cy="310.70" r="3.4"/>
<circle cx="475.86" cy="310.70" r="3.4"/>
<circle cx="483.47" cy="310.70" r="3.4"/>
<circle cx="491.07" cy="308.80" r="3.4"/>
<circle cx="498.68" cy="308.80" r="3.4"/>
<circle cx="506.29" cy="306.90" r="3.4"/>
<circle cx="513.90" cy="306.90" r="3.4"/>
<circle cx="521.51" cy="306.90" r="3.4"/>
<circle cx="529.11" cy="305.20" r="3.4"/>
<circle cx="536.72" cy="303.60" r="3.4"/>
<circle cx="544.33" cy="305.20" r="3.4"/>
<circle cx="551.94" cy="303.60" r="3.4"/>
<circle cx="559.55" cy="302.00" r="3.4"/>
<circle cx="567.15" cy="302.00" r="3.4"/>
<circle cx="574.76" cy="300.60" r="3.4"/>
<circle cx="582.37" cy="301.30" r="3.4"/>
<circle cx="589.98" cy="300.60" r="3.4"/>
<circle cx="597.59" cy="299.20" r="3.4"/>
<circle cx="605.19" cy="295.00" r="3.4"/>
<circle cx="612.80" cy="298.00" r="3.4"/>
<circle cx="620.41" cy="298.00" r="3.4"/>
<circle cx="628.02" cy="293.40" r="3.4"/>
<circle cx="635.63" cy="291.00" r="3.4"/>
<circle cx="643.23" cy="290.00" r="3.4"/>
<circle cx="650.84" cy="289.00" r="3.4"/>
<circle cx="658.45" cy="287.60" r="3.4"/>
<circle cx="666.06" cy="286.40" r="3.4"/>
<circle cx="673.67" cy="283.60" r="3.4"/>
<circle cx="681.27" cy="282.40" r="3.4"/>
<circle cx="688.88" cy="281.00" r="3.4"/>
<circle cx="696.49" cy="280.00" r="3.4"/>
<circle cx="704.10" cy="278.40" r="3.4"/>
<circle cx="711.71" cy="277.00" r="3.4"/>
<circle cx="719.31" cy="276.00" r="3.4"/>
<circle cx="726.92" cy="273.40" r="3.4"/>
<circle cx="734.53" cy="270.40" r="3.4"/>
<circle cx="742.14" cy="271.00" r="3.4"/>
<circle cx="749.75" cy="261.00" r="3.4"/>
<circle cx="757.35" cy="250.00" r="3.4"/>
<circle cx="764.96" cy="198.40" r="3.4"/>
<circle cx="772.57" cy="165.00" r="3.4"/>
<circle cx="780.18" cy="180.00" r="3.4"/>
<circle cx="787.79" cy="168.00" r="3.4"/>
</g>
</g>
<text y="20.8" font-size="10.3" fill="#000" x="641.5 647.3 651.4 654.6 658.4 661.5 667.2 673.4 675.8 679.4 682.1 689.7 695.7">critical-jOPS</text>
<text y="20.8" font-size="10.3" fill="#000" x="735.5 744.4 750.1 755.0 758.6 761.1 768.7 774.7">max-jOPS</text>
<rect x="670.1" y="10" width="2.3" height="318" fill="#ffc800"/>
<rect x="756.3" y="10" width="2.3" height="318" fill="#f40808"/>
<rect x="88.5" y="10.5" width="700.0" height="317.0" fill="none" stroke="#787878" stroke-width="1"/>
<g stroke="#a0a0a0" stroke-width="1" fill="none">
<path d="M84.5 10V327.8" stroke="#b6b6b6"/>
<path d="M82 317.5H84.5"/>
<path d="M82 299.5H84.5"/>
<path d="M82 288.5H84.5"/>
<path d="M82 280.5H84.5"/>
<path d="M82 274.5H84.5"/>
<path d="M82 269.5H84.5"/>
<path d="M82 265.5H84.5"/>
<path d="M82 262.5H84.5"/>
<path d="M82 258.5H84.5"/>
<path d="M82 256.5H84.5"/>
<path d="M82 237.5H84.5"/>
<path d="M82 226.5H84.5"/>
<path d="M82 219.5H84.5"/>
<path d="M82 213.5H84.5"/>
<path d="M82 208.5H84.5"/>
<path d="M82 204.5H84.5"/>
<path d="M82 200.5H84.5"/>
<path d="M82 197.5H84.5"/>
<path d="M82 194.5H84.5"/>
<path d="M82 175.5H84.5"/>
<path d="M82 165.5H84.5"/>
<path d="M82 157.5H84.5"/>
<path d="M82 151.5H84.5"/>
<path d="M82 146.5H84.5"/>
<path d="M82 142.5H84.5"/>
<path d="M82 138.5H84.5"/>
<path d="M82 135.5H84.5"/>
<path d="M82 132.5H84.5"/>
<path d="M82 114.5H84.5"/>
<path d="M82 103.5H84.5"/>
<path d="M82 95.5H84.5"/>
<path d="M82 89.5H84.5"/>
<path d="M82 84.5H84.5"/>
<path d="M82 80.5H84.5"/>
<path d="M82 77.5H84.5"/>
<path d="M82 74.5H84.5"/>
<path d="M82 71.5H84.5"/>
<path d="M82 52.5H84.5"/>
<path d="M82 41.5H84.5"/>
<path d="M82 34.5H84.5"/>
<path d="M82 28.5H84.5"/>
<path d="M82 23.5H84.5"/>
<path d="M82 19.5H84.5"/>
<path d="M82 15.5H84.5"/>
<path d="M82 12.5H84.5"/>
<path d="M88 331.5H789" stroke="#b6b6b6"/>
<path d="M88.5 331V333.6" stroke="#909090"/>
<path d="M195.5 331V333.6" stroke="#909090"/>
<path d="M303.5 331V333.6" stroke="#909090"/>
<path d="M411.5 331V333.6" stroke="#909090"/>
<path d="M519.5 331V333.6" stroke="#909090"/>
<path d="M627.5 331V333.6" stroke="#909090"/>
<path d="M735.5 331V333.6" stroke="#909090"/>
</g>
<g stroke="#b0b0b0" stroke-width="1" fill="none">
<path d="M89 317.5H91"/>
<path d="M89 299.5H91"/>
<path d="M89 288.5H91"/>
<path d="M89 280.5H91"/>
<path d="M89 274.5H91"/>
<path d="M89 269.5H91"/>
<path d="M89 265.5H91"/>
<path d="M89 262.5H91"/>
<path d="M89 258.5H91"/>
<path d="M89 256.5H91"/>
<path d="M89 237.5H91"/>
<path d="M89 226.5H91"/>
<path d="M89 219.5H91"/>
<path d="M89 213.5H91"/>
<path d="M89 208.5H91"/>
<path d="M89 204.5H91"/>
<path d="M89 200.5H91"/>
<path d="M89 197.5H91"/>
<path d="M89 194.5H91"/>
<path d="M89 175.5H91"/>
<path d="M89 165.5H91"/>
<path d="M89 157.5H91"/>
<path d="M89 151.5H91"/>
<path d="M89 146.5H91"/>
<path d="M89 142.5H91"/>
<path d="M89 138.5H91"/>
<path d="M89 135.5H91"/>
<path d="M89 132.5H91"/>
<path d="M89 114.5H91"/>
<path d="M89 103.5H91"/>
<path d="M89 95.5H91"/>
<path d="M89 89.5H91"/>
<path d="M89 84.5H91"/>
<path d="M89 80.5H91"/>
<path d="M89 77.5H91"/>
<path d="M89 74.5H91"/>
<path d="M89 71.5H91"/>
<path d="M89 52.5H91"/>
<path d="M89 41.5H91"/>
<path d="M89 34.5H91"/>
<path d="M89 28.5H91"/>
<path d="M89 23.5H91"/>
<path d="M89 19.5H91"/>
<path d="M89 15.5H91"/>
<path d="M89 12.5H91"/>
</g>
<text x="78.3" y="74.6" font-size="9.8" fill="#000" stroke="#000" stroke-width="0.08" text-anchor="end" textLength="47.4" lengthAdjust="spacingAndGlyphs">10000000</text>
<text x="78.3" y="136.2" font-size="9.8" fill="#000" stroke="#000" stroke-width="0.08" text-anchor="end" textLength="41.5" lengthAdjust="spacingAndGlyphs">1000000</text>
<text x="78.3" y="197.9" font-size="9.8" fill="#000" stroke="#000" stroke-width="0.08" text-anchor="end" textLength="35.6" lengthAdjust="spacingAndGlyphs">100000</text>
<text x="78.3" y="259.5" font-size="9.8" fill="#000" stroke="#000" stroke-width="0.08" text-anchor="end" textLength="29.7" lengthAdjust="spacingAndGlyphs">10000</text>
<text x="78.3" y="321.2" font-size="9.8" fill="#000" stroke="#000" stroke-width="0.08" text-anchor="end" textLength="23.8" lengthAdjust="spacingAndGlyphs">1000</text>
<text transform="translate(21.9,234) rotate(-90)" font-size="12.4" fill="#000" stroke="#000" stroke-width="0.2" textLength="112.6" lengthAdjust="spacingAndGlyphs">Response time, usec</text>
<text x="88.2" y="346.2" font-size="12" fill="#3a3a3a" text-anchor="middle" textLength="6.4" lengthAdjust="spacingAndGlyphs">0</text>
<text x="195.6" y="346.2" font-size="12" fill="#3a3a3a" text-anchor="middle" textLength="44.5" lengthAdjust="spacingAndGlyphs">50,000</text>
<text x="303.7" y="346.2" font-size="12" fill="#3a3a3a" text-anchor="middle" textLength="53.0" lengthAdjust="spacingAndGlyphs">100,000</text>
<text x="410.6" y="346.2" font-size="12" fill="#3a3a3a" text-anchor="middle" textLength="53.8" lengthAdjust="spacingAndGlyphs">150,000</text>
<text x="519.1" y="346.2" font-size="12" fill="#3a3a3a" text-anchor="middle" textLength="51.7" lengthAdjust="spacingAndGlyphs">200,000</text>
<text x="626.9" y="346.2" font-size="12" fill="#3a3a3a" text-anchor="middle" textLength="51.8" lengthAdjust="spacingAndGlyphs">250,000</text>
<text x="734.6" y="346.2" font-size="12" fill="#3a3a3a" text-anchor="middle" textLength="51.8" lengthAdjust="spacingAndGlyphs">300,000</text>
<text x="420" y="365" font-size="14" font-weight="bold" fill="#3a3a3a" textLength="35" lengthAdjust="spacingAndGlyphs">jOPS</text>
<rect x="131.5" y="377.7" width="538.7" height="20.4" fill="#fff" stroke="#000" stroke-width="1.1"/>
<rect x="138.2" y="384.7" width="6.6" height="6.6" fill="#ff5555"/>
<circle cx="187.5" cy="388" r="3.4" fill="#5555ff"/>
<path d="M257.5 384.4L261.2 391.4L253.8 391.4Z" fill="#55ff55"/>
<path d="M381.5 384.3L385.2 388L381.5 391.7L377.8 388Z" fill="#ffff55"/>
<rect x="502" y="386.3" width="7.2" height="3.5" fill="#ff55ff"/>
<path d="M625.2 384.6L632.8 384.6L629 391.6Z" fill="#55ffff"/>
<text x="153.1" y="392.3" font-size="12.3" fill="#3a3a3a" textLength="21.0" lengthAdjust="spacingAndGlyphs">min</text>
<text x="198.6" y="392.3" font-size="12.3" fill="#3a3a3a" textLength="47.0" lengthAdjust="spacingAndGlyphs">median</text>
<text x="268.8" y="392.3" font-size="12.3" fill="#3a3a3a" textLength="100.2" lengthAdjust="spacingAndGlyphs">90-th percentile</text>
<text x="393.1" y="392.3" font-size="12.3" fill="#3a3a3a" textLength="99.8" lengthAdjust="spacingAndGlyphs">95-th percentile</text>
<text x="517.1" y="392.3" font-size="12.3" fill="#3a3a3a" textLength="99.5" lengthAdjust="spacingAndGlyphs">99-th percentile</text>
<text x="641.2" y="392.3" font-size="12.3" fill="#3a3a3a" textLength="25.0" lengthAdjust="spacingAndGlyphs">max</text>
</svg></body></html>
